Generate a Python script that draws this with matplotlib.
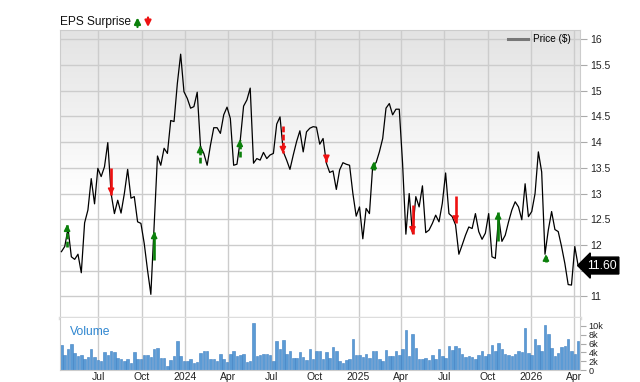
import numpy as np
import pandas as pd
import matplotlib
matplotlib.use('Agg')
import matplotlib.pyplot as plt
from matplotlib.colors import LinearSegmentedColormap
from matplotlib.lines import Line2D
from matplotlib.transforms import blended_transform_factory

plt.rcParams['font.family'] = ['Liberation Sans', 'DejaVu Sans']

# weekly closes and volume (thousands)
weeks = pd.date_range('2023-04-14', periods=157, freq='7D')
price = [11.87, 11.97, 12.32, 11.77, 11.72, 11.82, 11.46, 12.43, 12.68, 13.29,
         12.80, 13.49, 13.33, 13.52, 13.99, 13.00, 12.61, 12.87, 12.62, 13.00,
         13.47, 12.91, 12.94, 12.45, 12.42, 12.03, 11.51, 11.04, 12.40, 13.73,
         13.55, 13.88, 13.78, 14.42, 14.40, 15.14, 15.71, 14.98, 14.85, 14.66,
         14.69, 14.97, 13.91, 13.78, 13.55, 13.94, 14.28, 14.28, 14.17, 14.53,
         14.68, 14.46, 13.55, 13.57, 14.04, 14.70, 14.82, 15.05, 13.59, 13.68,
         13.65, 13.80, 13.68, 13.75, 13.78, 14.35, 14.49, 13.81, 13.65, 13.47,
         13.75, 14.01, 14.22, 13.81, 14.20, 14.27, 14.30, 14.29, 13.96, 14.07,
         13.59, 13.41, 13.44, 13.08, 13.46, 13.60, 13.57, 13.55, 13.00, 12.56,
         12.74, 12.12, 12.71, 12.61, 13.55, 13.60, 13.81, 14.07, 14.66, 14.75,
         14.53, 14.64, 14.64, 13.59, 12.21, 13.00, 12.22, 12.94, 12.74, 13.15,
         12.24, 12.29, 12.42, 12.58, 12.45, 12.81, 13.40, 12.61, 12.55, 12.39,
         11.82, 12.00, 12.19, 12.35, 12.32, 12.61, 12.26, 12.11, 12.23, 12.61,
         11.77, 11.74, 12.55, 12.07, 12.19, 12.45, 12.68, 12.84, 12.74, 12.49,
         13.19, 12.55, 12.65, 13.00, 13.81, 13.42, 11.82, 12.29, 12.65, 12.30,
         12.26, 11.97, 11.64, 11.23, 11.22, 11.97, 11.60]
volume_k = [5.6, 3.3, 4.8, 5.8, 3.9, 3.1, 3.5, 2.5, 3.0, 4.7,
            3.0, 2.3, 2.1, 4.0, 3.3, 4.2, 4.0, 2.7, 2.4, 2.0,
            2.4, 1.7, 4.0, 2.5, 2.5, 3.3, 3.4, 2.9, 4.7, 5.0,
            2.7, 2.7, 1.0, 2.3, 3.1, 6.6, 3.1, 2.1, 2.0, 2.4,
            1.7, 1.8, 3.9, 4.4, 4.4, 2.5, 2.5, 2.1, 3.7, 2.5,
            1.9, 3.6, 4.4, 3.1, 3.3, 3.6, 1.9, 2.1, 10.6, 3.1,
            3.3, 3.6, 3.6, 3.4, 2.1, 6.5, 4.7, 6.9, 3.6, 4.2,
            2.7, 2.8, 4.0, 2.9, 2.3, 4.8, 2.5, 4.2,
            4.2, 2.5, 4.0, 2.8, 5.3, 4.2, 2.1, 1.7, 2.3, 2.4,
            7.1, 3.4, 3.5, 2.9, 3.7, 2.7, 4.2, 4.4, 2.5, 2.0,
            4.6, 3.2, 3.2, 4.3, 3.4, 4.8, 9.0, 3.1, 8.1, 4.9,
            2.6, 2.6, 2.7, 2.3, 3.4, 2.5, 4.7, 3.1, 2.7, 5.5,
            4.5, 5.5, 4.9, 3.7, 2.9, 3.1, 2.9, 2.5, 3.3, 4.4,
            3.1, 3.7, 5.7, 4.4, 6.2, 4.8, 3.7, 3.3, 3.2, 3.7,
            4.4, 4.0, 9.5, 3.8, 3.4, 7.1, 5.6, 4.3, 10.2, 8.2,
            5.1, 3.1, 3.8, 5.2, 5.4, 7.1, 4.2, 3.7, 6.6]

# EPS surprise arrows: date, start price, tip price, dashed?
eps_dates = pd.to_datetime(['2023-04-26', '2023-07-28', '2023-10-27', '2024-02-01',
                            '2024-04-25', '2024-07-25', '2024-10-25', '2025-02-02',
                            '2025-04-25', '2025-07-25', '2025-10-23', '2026-02-01'])
eps_from = [11.97, 13.50, 11.71, 13.59, 13.72, 14.32, 13.74, 13.45, 12.77, 12.96, 12.07, 11.66]
eps_to = [12.40, 12.97, 12.26, 13.93, 14.05, 13.78, 13.61, 13.62, 12.22, 12.43, 12.64, 11.82]
eps_dashed = [True, False, False, True, True, True, False, False, False, False, False, True]

tick_dates = pd.to_datetime(['2023-07-01', '2023-10-01', '2024-01-01', '2024-04-01',
                             '2024-07-01', '2024-10-01', '2025-01-01', '2025-04-01',
                             '2025-07-01', '2025-10-01', '2026-01-01', '2026-04-01'])
tick_labels = ['Jul', 'Oct', '2024', 'Apr', 'Jul', 'Oct', '2025', 'Apr', 'Jul', 'Oct', '2026', 'Apr']
price_ticks = [11, 11.5, 12, 12.5, 13, 13.5, 14, 14.5, 15, 15.5, 16]
# 11.5 sits under the last-price tag in the original
price_tick_labels = ['11', '', '12', '12.5', '13', '13.5', '14', '14.5', '15', '15.5', '16']
vol_ticks = [0, 2, 4, 6, 8, 10]
vol_tick_labels = ['0', '2k', '4k', '6k', '8k', '10k']
last_price = 11.60

grid_c = '#cccccc'
green = '#0b800b'
red = '#ee1111'

fig = plt.figure(figsize=(6.4, 3.82), dpi=100)
ax = fig.add_axes([60/640, 1-318/382, 520/640, 288/382])
axv = fig.add_axes([60/640, 1-370/382, 520/640, 52/382], sharex=ax)

# gradient background of the price panel
bg = LinearSegmentedColormap.from_list('bg', [(0, '#ffffff'), (0.42, '#ffffff'), (1, '#e3e3e3')])
ax.imshow(np.linspace(0, 1, 256).reshape(-1, 1), extent=[0, 1, 0, 1], transform=ax.transAxes,
          aspect='auto', cmap=bg, origin='lower', zorder=-1)

ax.plot(weeks, price, color='black', lw=0.9, zorder=3)

for d, a, b, dash in zip(eps_dates, eps_from, eps_to, eps_dashed):
    c = green if b > a else red
    ls = (0, (2.2, 0.9)) if dash else '-'
    ax.plot([d, d], [a, b], color=c, lw=1.9, ls=ls, zorder=4, solid_capstyle='butt')
    off = -4 if b > a else 4
    ax.annotate('', xy=(d, b), xytext=(0, off), textcoords='offset points',
                arrowprops=dict(arrowstyle='-|>', color=c, lw=1.2, mutation_scale=9,
                                shrinkA=0, shrinkB=0), zorder=5)

ax.set_yticks(price_ticks)
ax.set_yticklabels(price_tick_labels)
ax.set_ylim(10.58, 16.18)
ax.yaxis.tick_right()
ax.tick_params(axis='y', length=5, color='#aaaaaa', labelsize=7.5, pad=2, labelcolor='#222222')
ax.tick_params(axis='x', length=0, labelbottom=False)
ax.grid(True, color=grid_c, lw=1)
ax.set_axisbelow(True)
for s in ax.spines.values():
    s.set_color(grid_c)
ax.spines['bottom'].set_color('#dddddd')
ax.spines['bottom'].set_linewidth(2.5)

ax.legend(handles=[Line2D([], [], color='#777777', lw=2.2)], labels=['Price ($)'],
          loc='upper right', bbox_to_anchor=(0.983, 0.985), frameon=False, fontsize=7.2,
          handlelength=1.95, handletextpad=0.55, borderaxespad=0, borderpad=0)

# last price tag
tr = blended_transform_factory(ax.transAxes, ax.transData)
ax.text(1.013, last_price, '%.2f' % last_price, transform=tr, ha='left', va='center',
        color='white', fontsize=8.8,
        bbox=dict(boxstyle='larrow,pad=0.2', fc='black', ec='black'), zorder=6)

# volume panel
axv.bar(weeks, volume_k, width=5.3, color='#5b9bd5', edgecolor='#3f80c2', linewidth=0.4)
axv.set_ylim(0, 11.8)
axv.set_yticks(vol_ticks)
axv.set_yticklabels(vol_tick_labels)
axv.yaxis.tick_right()
axv.tick_params(axis='y', length=4, color='#aaaaaa', labelsize=6.6, pad=2, labelcolor='#222222')
axv.set_xticks(tick_dates)
axv.set_xticklabels(tick_labels)
axv.tick_params(axis='x', length=0, labelsize=7.5, pad=1.5, labelcolor='#222222')
axv.grid(True, axis='x', color=grid_c, lw=1)
axv.set_axisbelow(True)
for s in axv.spines.values():
    s.set_color(grid_c)
axv.spines['top'].set_visible(False)
axv.text(0.019, 0.74, 'Volume', transform=axv.transAxes, color='#2f86d0', fontsize=8.7,
         va='center')

ax.set_xlim(pd.Timestamp('2023-04-11'), pd.Timestamp('2026-04-14'))

# header
fig.text(60/640, 1-22.5/382, 'EPS Surprise', fontsize=8.6, va='center', ha='left', color='#111111')
ax.annotate('', xy=(137.5, 382-17.5), xytext=(137.5, 382-27), xycoords='figure pixels',
            arrowprops=dict(arrowstyle='-|>', color=green, lw=1.6, mutation_scale=9,
                            shrinkA=0, shrinkB=0), annotation_clip=False)
ax.annotate('', xy=(148, 382-27), xytext=(148, 382-17.5), xycoords='figure pixels',
            arrowprops=dict(arrowstyle='-|>', color=red, lw=1.6, mutation_scale=9,
                            shrinkA=0, shrinkB=0), annotation_clip=False)

fig.savefig('out.png', dpi=100)
